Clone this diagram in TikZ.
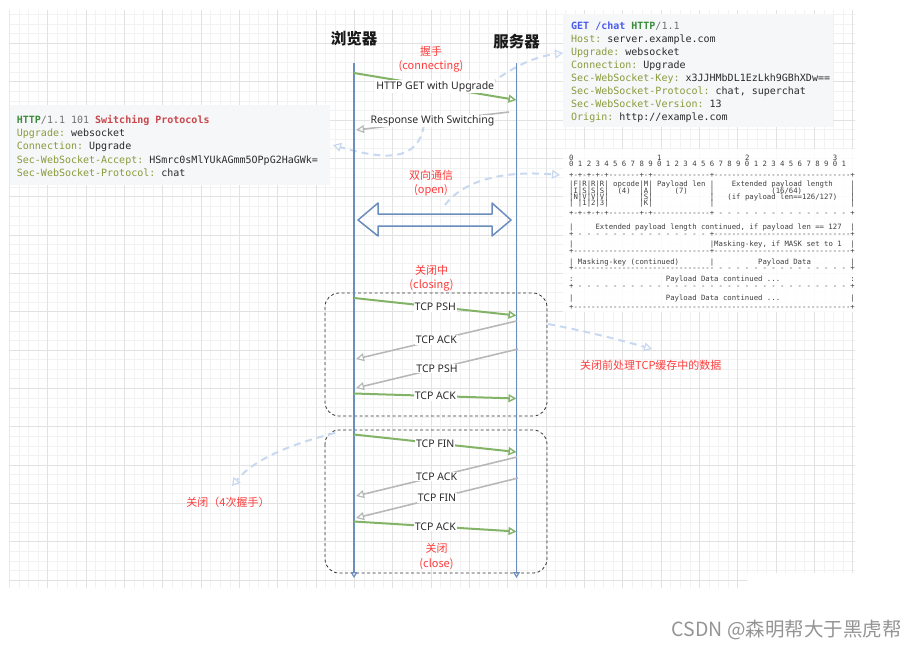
\documentclass[tikz,border=0pt]{standalone}
\usepackage{fontspec}
\setmainfont{Noto Sans CJK SC}
\setmonofont{DejaVu Sans Mono}[Ligatures=TeXOff]
\newfontfamily\seqfont{Noto Sans}
\usetikzlibrary{arrows.meta}

\definecolor{lifeblue}{HTML}{6C8EBF}
\definecolor{seqgreen}{HTML}{82B366}
\definecolor{seqgray}{HTML}{B8B8B8}
\definecolor{hintblue}{HTML}{C8D8F0}
\definecolor{notered}{HTML}{FF3B3B}
\definecolor{gridlo}{HTML}{F2F2F2}
\definecolor{gridhi}{HTML}{E2E2E2}
\definecolor{boxbg}{HTML}{F6F7F9}
\definecolor{keyolive}{HTML}{8A9A3B}
\definecolor{kwblue}{HTML}{4A5CF0}
\definecolor{httpgreen}{HTML}{3C8C3C}
\definecolor{swred}{HTML}{C8474A}
\definecolor{valgray}{HTML}{707070}
\definecolor{txt}{HTML}{2B2B2B}

\newcommand\ky[1]{{\color{keyolive}#1}}
\newcommand\rpt[2]{\foreach\rr in {1,...,#1}{#2}}

\begin{document}
\begin{tikzpicture}[x=1pt, y=-1pt,
  gridminor/.style={draw=gridlo, line width=0.6pt},
  gridmajor/.style={draw=gridhi, line width=0.8pt},
  lifeline/.style={draw=lifeblue, line width=1.6pt, -{Triangle[open, length=6pt, width=7pt, line width=1.2pt]}},
  fwd/.style={draw=seqgreen, line width=2pt, -{Triangle[open, length=8pt, width=8pt, line width=1.4pt]}},
  bwd/.style={draw=seqgray, line width=1.6pt, -{Triangle[open, length=8pt, width=8pt, line width=1.2pt]}},
  lab/.style={fill=white, inner sep=1pt, font=\seqfont\fontsize{10.5}{12}\selectfont, text=txt},
  note/.style={text=notered, align=center, inner sep=0pt, font=\fontsize{11}{14.4}\selectfont},
  title/.style={font=\bfseries\fontsize{15.5}{18}\selectfont, text=black!90},
  hint/.style={draw=hintblue, line width=2pt, dash pattern=on 7pt off 5pt, -{Triangle[open, length=8pt, width=9pt, line width=1.2pt]}},
  phase/.style={draw=black!80, line width=0.8pt, dash pattern=on 3pt off 2.5pt, rounded corners=14pt},
  hdr/.style={anchor=base west, inner sep=0pt, font=\ttfamily\fontsize{10}{13}\selectfont, text=txt},
  frm/.style={anchor=base west, inner sep=0pt, font=\ttfamily\fontsize{7.3}{8}\selectfont, text=black!75}]
\useasboundingbox (0,0) rectangle (918,649);

% grid paper
\begin{scope}
  \clip (9.4,10) -- (855,10) -- (855,573) -- (747,573) -- (747,588) -- (9.4,588) -- cycle;
  \foreach \i in {0,...,88} \draw[gridminor] ({9.4+9.583*\i},0) -- ++(0,600);
  \foreach \j in {0,...,62} \draw[gridminor] (0,{5+9.583*\j}) -- ++(870,0);
  \foreach \i in {0,...,22} \draw[gridmajor] ({9.4+38.33*\i},0) -- ++(0,600);
  \foreach \j in {0,...,15} \draw[gridmajor] (0,{5+38.33*\j}) -- ++(870,0);
\end{scope}

% handshake headers
\fill[boxbg] (563,14) rectangle (833,127);
\fill[boxbg] (10,105) rectangle (330,185);
\foreach \t [count=\k from 0] in {
  {\textbf{\color{kwblue}GET /chat} \textbf{\color{httpgreen}HTTP}{\color{valgray}/1.1}},
  {\ky{Host:} server.example.com},
  {\ky{Upgrade:} websocket},
  {\ky{Connection:} Upgrade},
  {\ky{Sec-WebSocket-Key:} x3JJHMbDL1EzLkh9GBhXDw==},
  {\ky{Sec-WebSocket-Protocol:} chat, superchat},
  {\ky{Sec-WebSocket-Version:} 13},
  {\ky{Origin:} http://example.com}}
  \node[hdr] (req\k) at (571,{29.3+13*\k}) {\t};
\foreach \t [count=\k from 0] in {
  {\textbf{\color{httpgreen}HTTP}{\color{valgray}/1.1 101} \textbf{\color{swred}Switching Protocols}},
  {\ky{Upgrade:} websocket},
  {\ky{Connection:} Upgrade},
  {\ky{Sec-WebSocket-Accept:} HSmrc0sMlYUkAGmm5OPpG2HaGWk=},
  {\ky{Sec-WebSocket-Protocol:} chat}}
  \node[hdr] (resp\k) at (16.7,{123.5+13.2*\k}) {\t};

% data frame layout
\fill[white, fill opacity=0.85] (563,149) rectangle (855,312);
\foreach \y/\t [count=\k] in {
  160.8/{0\rpt{19}{~}1\rpt{19}{~}2\rpt{19}{~}3},
  166.5/{0~1~2~3~4~5~6~7~8~9~0~1~2~3~4~5~6~7~8~9~0~1~2~3~4~5~6~7~8~9~0~1},
  177.5/{+-+-+-+-+\rpt{7}{-}+-+\rpt{13}{-}+\rpt{31}{-}+},
  186.8/{|F|R|R|R|~opcode|M|~Payload~len~|~~~~Extended~payload~length~~~~|},
  193.2/{|I|S|S|S|~~(4)~~|A|~~~~~(7)~~~~~|\rpt{13}{~}(16/64)\rpt{11}{~}|},
  199.5/{|N|V|V|V|\rpt{7}{~}|S|\rpt{13}{~}|~~~(if~payload~len==126/127)~~~|},
  205.8/{|~|1|2|3|\rpt{7}{~}|K|\rpt{13}{~}|\rpt{31}{~}|},
  215.2/{+-+-+-+-+\rpt{7}{-}+-+\rpt{13}{-}+\rpt{15}{~-}~+},
  229.2/{|~~~~~Extended~payload~length~continued,~if~payload~len~==~127~~|},
  236.8/{+\rpt{15}{~-}~+\rpt{31}{-}+},
  246.8/{|\rpt{31}{~}|Masking-key,~if~MASK~set~to~1~~|},
  253.5/{+\rpt{31}{-}+\rpt{31}{-}+},
  264.2/{|~Masking-key~(continued)\rpt{7}{~}|\rpt{10}{~}Payload~Data\rpt{9}{~}|},
  270.8/{+\rpt{32}{-}\rpt{15}{~-}~+},
  281.8/{:\rpt{21}{~}Payload~Data~continued~...\rpt{16}{~}:},
  288.5/{+\rpt{31}{~-}~+},
  300.2/{|\rpt{21}{~}Payload~Data~continued~...\rpt{16}{~}|},
  309.2/{+\rpt{63}{-}+}}
  \node[frm] (frame\k) at (569,\y) {\t};

% closing phases
\draw[phase] (325,293) rectangle (547,416);
\draw[phase] (325,430) rectangle (547,573);

% pointers to the notes
\draw[hint] (490,84) .. controls (512,68) and (532,57) .. (563,53);
\draw[hint] (424,125) .. controls (418,162) and (385,160) .. (333,145);
\draw[hint] (445,205) .. controls (462,182) and (500,170) .. (560,175);
\draw[hint] (548,324) .. controls (590,332) and (620,340) .. (652,349);
\draw[hint] (335,433) .. controls (295,443) and (255,458) .. (232,486);

% lifelines
\node[title] (browser) at (354,38.5) {浏览器};
\node[title] (server) at (516.5,41.5) {服务器};
\coordinate (b-top) at (354,63);
\coordinate (b-end) at (354,578);
\coordinate (s-top) at (516.5,63);
\coordinate (s-end) at (516.5,578);
\draw[lifeline] (b-top) -- (b-end);
\draw[lifeline] (s-top) -- (s-end);

% full duplex
\draw[lifeblue, line width=1.5pt, line join=round] (358,220) -- (378,203) -- (378,214) -- (492,214) -- (492,203) -- (511,220) -- (492,236) -- (492,226) -- (378,226) -- (378,236) -- cycle;

% messages
\foreach \n/\xa/\ya/\xb/\yb/\st/\t in {
  1/354/73/516.5/100/fwd/{HTTP GET with Upgrade},
  2/509/112/356/130/bwd/{Response With Switching},
  3/354/298/516.5/315.5/fwd/{TCP PSH},
  4/516.5/321/356/359/bwd/{TCP ACK},
  5/518/349/356/388/bwd/{TCP PSH},
  6/354/393.5/516.5/398.5/fwd/{TCP ACK},
  7/354/434.5/516.5/452/fwd/{TCP FIN},
  8/517/457/356/496/bwd/{TCP ACK},
  9/518/478/356/518/bwd/{TCP FIN},
  10/354/521.5/516.5/531.5/fwd/{TCP ACK}}
{
  \coordinate (msg\n-from) at (\xa,\ya);
  \coordinate (msg\n-to) at (\xb,\yb);
  \draw[\st] (msg\n-from) -- node[lab] (msg\n-label) {\t} (msg\n-to);
}

% phase notes
\node[note] (connecting) at (431,59.5) {握手\\(connecting)};
\node[note] (open) at (431,183) {双向通信\\(open)};
\node[note] (closing) at (431.5,278) {关闭中\\(closing)};
\node[note] (closed) at (436.5,556.5) {关闭\\(close)};
\node[note, anchor=west] (flushnote) at (580,365) {关闭前处理TCP缓存中的数据};
\node[note] (fournote) at (228,502) {关闭（4次握手）};

\node[anchor=west, inner sep=0pt, text=black!42, font=\fontsize{19.5}{22}\selectfont] (csdn) at (671.5,630) {CSDN @森明帮大于黑虎帮};
\end{tikzpicture}
\end{document}
